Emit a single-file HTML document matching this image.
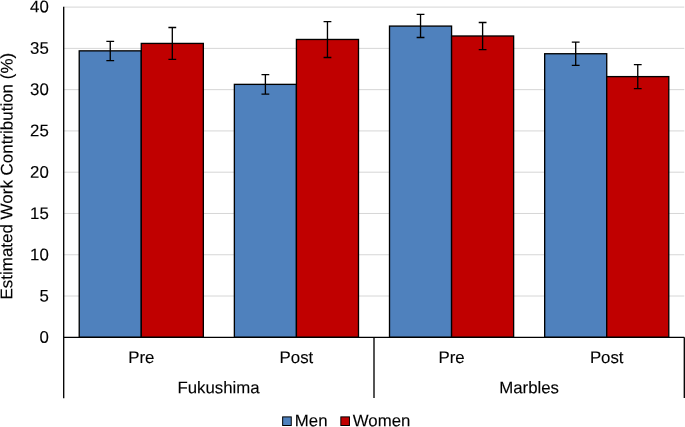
<!DOCTYPE html>
<html lang="en"><head><meta charset="utf-8"><title>Estimated Work Contribution</title>
<style>html,body{margin:0;padding:0;background:#fff;overflow:hidden}svg{display:block}text{font-family:"Liberation Sans",Arial,sans-serif;font-size:16.8px;fill:#000;stroke:#000;stroke-width:0.12px}</style></head><body>
<svg width="685" height="427" viewBox="0 0 685 427">
<rect width="685" height="427" fill="#fff"/>
<line x1="63.7" x2="684.3" y1="296.02" y2="296.02" stroke="#d6d6d6" stroke-width="1"/>
<line x1="63.7" x2="684.3" y1="254.75" y2="254.75" stroke="#d6d6d6" stroke-width="1"/>
<line x1="63.7" x2="684.3" y1="213.47" y2="213.47" stroke="#d6d6d6" stroke-width="1"/>
<line x1="63.7" x2="684.3" y1="172.20" y2="172.20" stroke="#d6d6d6" stroke-width="1"/>
<line x1="63.7" x2="684.3" y1="130.92" y2="130.92" stroke="#d6d6d6" stroke-width="1"/>
<line x1="63.7" x2="684.3" y1="89.65" y2="89.65" stroke="#d6d6d6" stroke-width="1"/>
<line x1="63.7" x2="684.3" y1="48.38" y2="48.38" stroke="#d6d6d6" stroke-width="1"/>
<line x1="63.7" x2="684.3" y1="7.10" y2="7.10" stroke="#d6d6d6" stroke-width="1"/>
<rect x="79.22" y="50.85" width="62.06" height="286.45" fill="#4f81bd" stroke="#000" stroke-width="1.33"/>
<rect x="141.28" y="43.42" width="62.06" height="293.88" fill="#c00000" stroke="#000" stroke-width="1.33"/>
<rect x="234.37" y="84.37" width="62.06" height="252.93" fill="#4f81bd" stroke="#000" stroke-width="1.33"/>
<rect x="296.43" y="39.46" width="62.06" height="297.84" fill="#c00000" stroke="#000" stroke-width="1.33"/>
<rect x="389.51" y="26.09" width="62.06" height="311.21" fill="#4f81bd" stroke="#000" stroke-width="1.33"/>
<rect x="451.57" y="35.99" width="62.06" height="301.31" fill="#c00000" stroke="#000" stroke-width="1.33"/>
<rect x="544.67" y="53.74" width="62.06" height="283.56" fill="#4f81bd" stroke="#000" stroke-width="1.33"/>
<rect x="606.73" y="76.61" width="62.06" height="260.69" fill="#c00000" stroke="#000" stroke-width="1.33"/>
<path d="M106.34 41.3H114.15M110.25 41.3V60.7M106.34 60.7H114.15" stroke="#000" stroke-width="1.33" fill="none"/>
<path d="M168.41 27.5H176.21M172.31 27.5V59.3M168.41 59.3H176.21" stroke="#000" stroke-width="1.33" fill="none"/>
<path d="M261.50 74.7H269.29M265.39 74.7V94.2M261.50 94.2H269.29" stroke="#000" stroke-width="1.33" fill="none"/>
<path d="M323.56 21.7H331.36M327.46 21.7V57.5M323.56 57.5H331.36" stroke="#000" stroke-width="1.33" fill="none"/>
<path d="M416.64 14.3H424.44M420.54 14.3V37.5M416.64 37.5H424.44" stroke="#000" stroke-width="1.33" fill="none"/>
<path d="M478.71 22.5H486.50M482.61 22.5V49.6M478.71 49.6H486.50" stroke="#000" stroke-width="1.33" fill="none"/>
<path d="M571.80 42.2H579.60M575.70 42.2V65.4M571.80 65.4H579.60" stroke="#000" stroke-width="1.33" fill="none"/>
<path d="M633.86 64.7H641.66M637.76 64.7V88.6M633.86 88.6H641.66" stroke="#000" stroke-width="1.33" fill="none"/>
<path d="M63.7 6.7V398.2M63.7 337.3H684.3M374.00 337.3V398M684.3 337.3V398" stroke="#000" stroke-width="1.33" fill="none"/>
<text transform="matrix(1 0.001 0 1 48.75 342.75)" text-anchor="end">0</text>
<text transform="matrix(1 0.001 0 1 48.75 301.47)" text-anchor="end">5</text>
<text transform="matrix(1 0.001 0 1 48.75 260.20)" text-anchor="end">10</text>
<text transform="matrix(1 0.001 0 1 48.75 218.92)" text-anchor="end">15</text>
<text transform="matrix(1 0.001 0 1 48.75 177.65)" text-anchor="end">20</text>
<text transform="matrix(1 0.001 0 1 48.75 136.37)" text-anchor="end">25</text>
<text transform="matrix(1 0.001 0 1 48.75 95.10)" text-anchor="end">30</text>
<text transform="matrix(1 0.001 0 1 48.75 53.83)" text-anchor="end">35</text>
<text transform="matrix(1 0.001 0 1 48.75 12.30)" text-anchor="end">40</text>
<text transform="matrix(1 0.001 0 1 141.28 363.00)" text-anchor="middle">Pre</text>
<text transform="matrix(1 0.001 0 1 296.43 363.00)" text-anchor="middle">Post</text>
<text transform="matrix(1 0.001 0 1 451.57 363.00)" text-anchor="middle">Pre</text>
<text transform="matrix(1 0.001 0 1 606.73 363.00)" text-anchor="middle">Post</text>
<text transform="matrix(1 0.001 0 1 218.50 393.20)" text-anchor="middle">Fukushima</text>
<text transform="matrix(1 0.001 0 1 529.15 393.20)" text-anchor="middle">Marbles</text>
<text transform="translate(12.4 176.2) rotate(-90) matrix(1.01 0.001 0 1 0 0)" text-anchor="middle">Estimated Work Contribution (%)</text>
<rect x="282.65" y="416.9" width="8.6" height="8.6" fill="#4f81bd" stroke="#000" stroke-width="1"/>
<text transform="matrix(1 0.001 0 1 294.85 426.20)" text-anchor="start">Men</text>
<rect x="340.85" y="416.9" width="8.6" height="8.6" fill="#c00000" stroke="#000" stroke-width="1"/>
<text transform="matrix(1 0.001 0 1 352.80 426.20)" text-anchor="start">Women</text>
</svg></body></html>
